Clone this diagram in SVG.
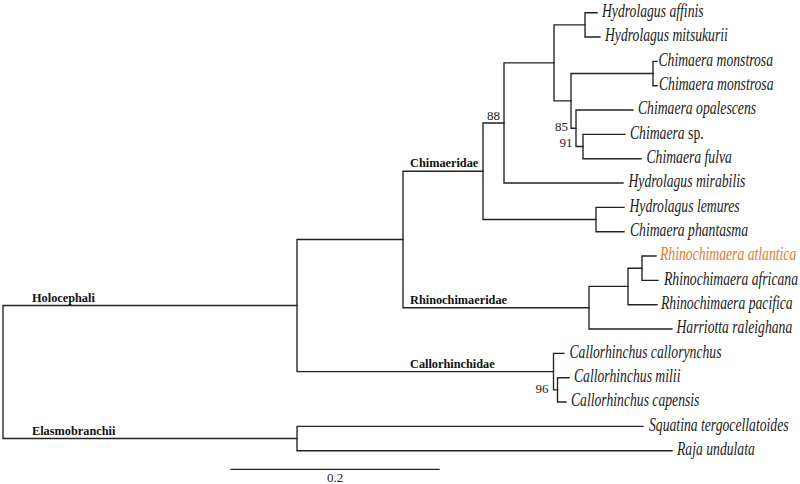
<svg xmlns="http://www.w3.org/2000/svg" width="800" height="484" viewBox="0 0 800 484">
<style>
.br{fill:none;stroke:#222;stroke-width:1.35;stroke-linecap:square}
.tx{font-family:"Liberation Serif","Times New Roman",serif;font-style:italic;font-size:18px;fill:#1a1a1a}
.tx .rm{font-style:normal}
.or{fill:#E07A2C}
.cl{font-family:"Liberation Serif","Times New Roman",serif;font-weight:bold;font-size:12.3px;fill:#111}
.bs{font-family:"Liberation Serif","Times New Roman",serif;font-size:13px;fill:#222}
</style>
<rect width="800" height="484" fill="#fff"/>
<g id="connectors">
<path class="br" d="M297,305.5 H3 V438.5 H297"/>
<path class="br" d="M403,239.5 H297 V371.6 H553.5"/>
<path class="br" d="M643,426.3 H297 V450.7 H672"/>
<path class="br" d="M483,171.2 H403 V307.7 H589"/>
<path class="br" d="M504,123 H483 V219.5 H596"/>
<path class="br" d="M554,62.9 H504 V183 H623"/>
<path class="br" d="M585,24.9 H554 V100.9 H571"/>
<path class="br" d="M597,12.7 H585 V37 H600"/>
<path class="br" d="M653,73.5 H571 V128.2 H576"/>
<path class="br" d="M657,61.4 H653 V85.7 H657"/>
<path class="br" d="M633,110 H576 V146.5 H583"/>
<path class="br" d="M625,134.3 H583 V158.7 H641"/>
<path class="br" d="M624,207.3 H596 V231.7 H624"/>
<path class="br" d="M628,286.4 H589 V329 H672"/>
<path class="br" d="M642,268.2 H628 V304.7 H657"/>
<path class="br" d="M656,256 H642 V280.3 H658"/>
<path class="br" d="M564,353.3 H553.5 V389.8 H557.5"/>
<path class="br" d="M569,377.7 H557.5 V402 H566"/>
<path class="br" d="M231,469.3 H439"/>
</g>
<g id="leaf-hydrolagus-affinis"><text class="tx" transform="translate(602 17) scale(0.76 1)">Hydrolagus affinis</text></g>
<g id="leaf-hydrolagus-mitsukurii"><text class="tx" transform="translate(605 41.3) scale(0.76 1)">Hydrolagus mitsukurii</text></g>
<g id="leaf-chimaera-monstrosa-1"><text class="tx" transform="translate(658.5 65.7) scale(0.76 1)">Chimaera monstrosa</text></g>
<g id="leaf-chimaera-monstrosa-2"><text class="tx" transform="translate(659 90) scale(0.76 1)">Chimaera monstrosa</text></g>
<g id="leaf-chimaera-opalescens"><text class="tx" transform="translate(638 114.3) scale(0.76 1)">Chimaera opalescens</text></g>
<g id="leaf-chimaera-sp"><text class="tx" transform="translate(630 138.6) scale(0.76 1)">Chimaera <tspan class="rm">sp.</tspan></text></g>
<g id="leaf-chimaera-fulva"><text class="tx" transform="translate(646.5 163) scale(0.76 1)">Chimaera fulva</text></g>
<g id="leaf-hydrolagus-mirabilis"><text class="tx" transform="translate(628.5 187.3) scale(0.76 1)">Hydrolagus mirabilis</text></g>
<g id="leaf-hydrolagus-lemures"><text class="tx" transform="translate(629.5 211.6) scale(0.76 1)">Hydrolagus lemures</text></g>
<g id="leaf-chimaera-phantasma"><text class="tx" transform="translate(630 236) scale(0.76 1)">Chimaera phantasma</text></g>
<g id="leaf-rhinochimaera-atlantica"><text class="tx or" transform="translate(660 260.3) scale(0.76 1)">Rhinochimaera atlantica</text></g>
<g id="leaf-rhinochimaera-africana"><text class="tx" transform="translate(664 284.6) scale(0.76 1)">Rhinochimaera africana</text></g>
<g id="leaf-rhinochimaera-pacifica"><text class="tx" transform="translate(661 309) scale(0.76 1)">Rhinochimaera pacifica</text></g>
<g id="leaf-harriotta-raleighana"><text class="tx" transform="translate(676.5 333.3) scale(0.76 1)">Harriotta raleighana</text></g>
<g id="leaf-callorhinchus-callorynchus"><text class="tx" transform="translate(569.5 357.6) scale(0.76 1)">Callorhinchus callorynchus</text></g>
<g id="leaf-callorhinchus-milii"><text class="tx" transform="translate(574 382) scale(0.76 1)">Callorhinchus milii</text></g>
<g id="leaf-callorhinchus-capensis"><text class="tx" transform="translate(571 406.3) scale(0.76 1)">Callorhinchus capensis</text></g>
<g id="leaf-squatina-tergocellatoides"><text class="tx" transform="translate(649 430.6) scale(0.76 1)">Squatina tergocellatoides</text></g>
<g id="leaf-raja-undulata"><text class="tx" transform="translate(677 455) scale(0.76 1)">Raja undulata</text></g>
<g id="clade-chimaeridae"><text class="cl" x="410" y="167">Chimaeridae</text></g>
<g id="clade-rhinochimaeridae"><text class="cl" x="410" y="303.5">Rhinochimaeridae</text></g>
<g id="clade-callorhinchidae"><text class="cl" x="410" y="367.5">Callorhinchidae</text></g>
<g id="clade-holocephali"><text class="cl" x="32" y="301.5">Holocephali</text></g>
<g id="clade-elasmobranchii"><text class="cl" x="32" y="434.5">Elasmobranchii</text></g>
<g id="support-88"><text class="bs" x="487" y="119.5">88</text></g>
<g id="support-85"><text class="bs" x="568" y="130.5" text-anchor="end">85</text></g>
<g id="support-91"><text class="bs" x="572.5" y="147" text-anchor="end">91</text></g>
<g id="support-96"><text class="bs" x="548.5" y="392.5" text-anchor="end">96</text></g>
<g id="scale-label"><text class="bs" x="335" y="482" text-anchor="middle">0.2</text></g>
</svg>
